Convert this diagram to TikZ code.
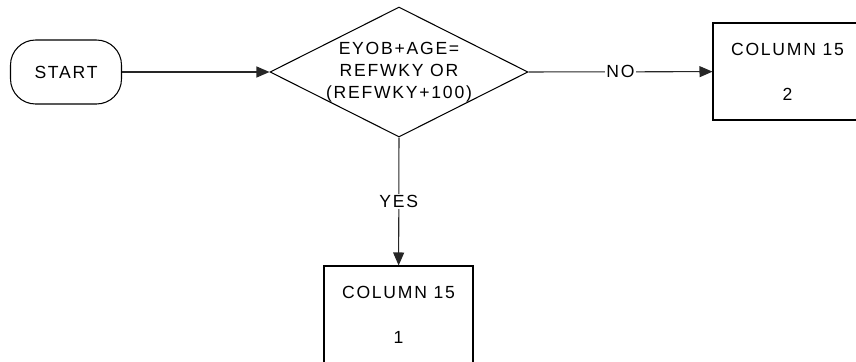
\documentclass[tikz,border=0pt]{standalone}
\usepackage{fontspec}
\setmainfont[LetterSpace=10]{Liberation Sans}
\usepackage{tikz}
\usetikzlibrary{positioning, shapes, arrows.meta}
\tikzstyle{every node}=[font=\fontsize{10}{12.5}\selectfont]
\tikzstyle{flow}=[draw=black!85, line width=0.6pt, -{Triangle[length=0.26cm,width=0.22cm]}]
\tikzstyle{terminal}=[draw, line width=0.6pt, rounded corners=0.5cm, minimum width=2.22cm, minimum height=1.28cm, inner sep=0pt]
\tikzstyle{decision}=[draw, diamond, line width=0.6pt, minimum width=5.16cm, minimum height=2.6cm, inner sep=0pt]
\tikzstyle{outbox}=[draw, line width=0.6pt, minimum width=2.98cm, minimum height=1.94cm, inner sep=0pt, align=center]
\tikzstyle{answer}=[fill=white, inner sep=1pt]

\begin{document}
\begin{tikzpicture}[x=0.02cm, y=-0.02cm]
		\useasboundingbox (0,0) rectangle (856,362);

		% Start and test
		\node[terminal] (start) at (66, 72) {START};
		\node[decision] (test) at (399, 72) {};
		\node[align=center] (test-text) at (test) {EYOB+AGE=\\REFWKY OR\\(REFWKY+100)};

		% Outcomes
		\node[outbox] (col-2) at (787.5, 71.5) {COLUMN 15\\[13pt]2};
		\node[outbox] (col-1) at (398.5, 314.5) {COLUMN 15\\[13pt]1};

		% Connect the steps
		\path (start) edge[flow] (test);
		\path (test.east) edge[flow] node[answer] {NO} (col-2);
		\path (test.south) edge[flow] node[answer] {YES} (col-1);

	\end{tikzpicture}
\end{document}
